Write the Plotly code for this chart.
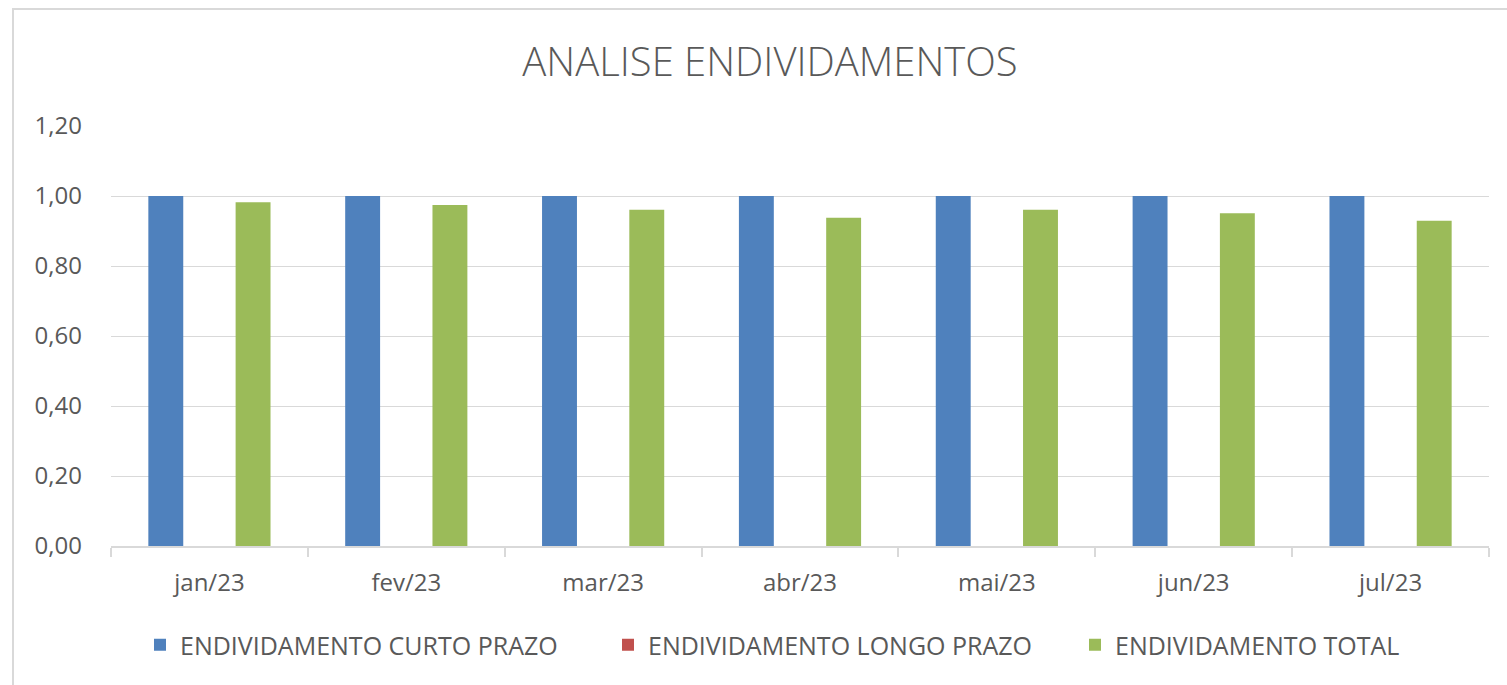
import plotly.graph_objects as go

months = ["jan/23", "fev/23", "mar/23", "abr/23", "mai/23", "jun/23", "jul/23"]
curto_prazo = [1.00, 1.00, 1.00, 1.00, 1.00, 1.00, 1.00]
longo_prazo = [0.00, 0.00, 0.00, 0.00, 0.00, 0.00, 0.00]
total = [0.982, 0.974, 0.961, 0.938, 0.961, 0.951, 0.929]
y_ticks = [0.0, 0.2, 0.4, 0.6, 0.8, 1.0, 1.2]

names = ["ENDIVIDAMENTO CURTO PRAZO", "ENDIVIDAMENTO LONGO PRAZO", "ENDIVIDAMENTO TOTAL"]
colors = ["#4F81BD", "#C0504D", "#9BBB59"]
series = [curto_prazo, longo_prazo, total]
legend_ids = ["legend", "legend", "legend2"]

FONT = "Open Sans"
TXT = "#595959"

fig = go.Figure()
for n, c, s, lg in zip(names, colors, series, legend_ids):
    fig.add_trace(go.Bar(x=months, y=s, name=n, legend=lg,
                         marker=dict(color=c, line=dict(width=0))))

legend_common = dict(orientation="h", xref="container", yref="container",
                     xanchor="left", y=1 - 645/685, yanchor="middle",
                     font=dict(family=FONT, size=25, color=TXT), itemclick=False,
                     traceorder="normal")

fig.update_layout(
    width=1507, height=685,
    barmode="group", bargap=0.335, bargroupgap=0.2,
    separators=",.",
    paper_bgcolor="white", plot_bgcolor="white",
    margin=dict(l=111, r=18, t=126, b=139, autoexpand=False),
    font=dict(family=FONT, color=TXT, size=24),
    title=dict(text="ANALISE ENDIVIDAMENTOS", x=770/1507, xanchor="center",
               y=1 - 62/685, yanchor="middle",
               font=dict(family=FONT, size=40, color=TXT, weight=300)),
    legend=dict(x=140/1507, entrywidth=423, **legend_common),
    legend2=dict(x=1075/1507, **legend_common),
    showlegend=True,
)
fig.update_yaxes(range=[0, 1.2], tickvals=y_ticks, tickformat=".2f",
                 showgrid=True, gridcolor="#d9d9d9", gridwidth=1,
                 zeroline=False, showline=False, ticks="",
                 tickfont=dict(size=24, color=TXT), ticklabelstandoff=28)
fig.update_xaxes(showline=True, linecolor="#d9d9d9", linewidth=2,
                 ticks="outside", tickson="boundaries", ticklen=9, tickcolor="#d9d9d9",
                 tickwidth=2, tickfont=dict(size=24, color=TXT), ticklabelstandoff=14)

# outer chart frame (decorative)
fig.add_shape(type="rect", xref="paper", yref="paper",
              x0=(13 - 111) / 1378, x1=1.1, y0=-0.5, y1=1 + (126 - 9) / 420,
              line=dict(color="#d9d9d9", width=2), fillcolor="rgba(0,0,0,0)", layer="below")

fig.write_html("out.html", config={"displayModeBar": False},
               post_script="document.body.style.margin='0';")
